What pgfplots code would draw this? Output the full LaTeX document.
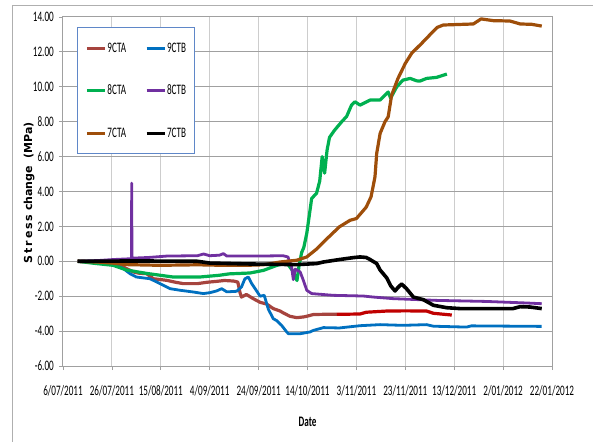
\documentclass[border=0pt]{standalone}
\usepackage{fontspec}
\setmainfont{Carlito}[FakeStretch=0.63]
\newfontfamily\ylabfont{DejaVu Sans}
\usepackage{pgfplots}
\pgfplotsset{compat=1.18}

\definecolor{cta9}{RGB}{166,68,62}
\definecolor{cta9late}{RGB}{192,0,0}
\definecolor{ctb9}{RGB}{0,112,192}
\definecolor{cta8}{RGB}{0,176,80}
\definecolor{ctb8}{RGB}{112,48,160}
\definecolor{cta7}{RGB}{158,78,10}
\definecolor{ctb7}{RGB}{0,0,0}
\definecolor{hgrid}{RGB}{160,160,160}
\definecolor{vgrid}{RGB}{205,205,205}
\definecolor{legblue}{RGB}{95,135,200}
\definecolor{framegray}{RGB}{175,175,175}

\begin{document}
\begin{tikzpicture}
% page area: 593 x 441 with the plot box 489 x 349
\useasboundingbox (-63pt,-75pt) rectangle (530pt,366pt);
% chart area border
\draw[framegray, line width=1pt] (-50.5pt,-80pt) -- (-50.5pt,360pt) -- (540pt,360pt);
\begin{axis}[
  at={(0pt,0pt)}, anchor=south west,
  scale only axis, width=489pt, height=349pt,
  xmin=0, xmax=200, ymin=-6, ymax=14,
  xtick={0,20,...,200},
  xticklabels={6/07/2011,26/07/2011,15/08/2011,4/09/2011,24/09/2011,14/10/2011,3/11/2011,23/11/2011,13/12/2011,2/01/2012,22/01/2012},
  ytick={-6,-4,...,14},
  yticklabel={\pgfmathprintnumber[fixed,fixed zerofill,precision=2]{\tick}},
  /pgf/number format/assume math mode=true,
  tick align=outside, major tick length=4pt,
  xtick pos=bottom, ytick pos=left,
  every tick/.style={hgrid, line width=0.8pt},
  axis line style={hgrid, line width=1pt},
  grid=major,
  x grid style={vgrid, line width=1pt},
  y grid style={hgrid, line width=1pt},
  tick label style={font=\fontsize{14.5}{16}\selectfont, text=black},
  xticklabel style={inner sep=0pt, anchor=base, yshift=-25pt},
  yticklabel style={inner sep=0pt, anchor=east, xshift=-5pt},
  xlabel={\bfseries Date},
  xlabel style={font=\fontsize{14.5}{16}\selectfont, at={(axis description cs:0.5,-0.16)}, anchor=center},
  ylabel={\ylabfont\bfseries S\,t\,r\,e\,s\,s change\ \ (MPa)},
  ylabel style={font=\fontsize{11}{13}\selectfont, at={(axis description cs:-0.0695,0.497)}, anchor=center},
  legend columns=2,
  legend image code/.code={\draw[#1, line width=3pt] (0pt,0pt) -- (18pt,0pt);},
  legend style={at={(axis description cs:0.0286,0.971)}, anchor=north west,
    draw=legblue, line width=1pt, fill=white,
    font=\fontsize{14.5}{16}\selectfont,
    inner xsep=8pt, inner ysep=15pt, row sep=31.5pt,
    nodes={inner sep=0pt},
    /tikz/every odd column/.append style={column sep=1pt},
    /tikz/every even column/.append style={column sep=19pt}},
  every axis plot/.append style={line width=3.2pt, line join=round},
]
% 9CTA (first part of the record)
\addplot[cta9] coordinates {
(6,0) (15,-0.05) (20,-0.1) (24.7,-0.33) (28.8,-0.61) (31,-0.68) (34.2,-0.71)
(37,-1.0) (42.4,-1.09) (46,-1.2) (49.2,-1.28) (55,-1.28) (59,-1.2) (62.8,-1.15)
(66,-1.1) (69.7,-1.13) (71.5,-1.19) (72.4,-1.8) (73,-2.05) (75,-1.9) (77.8,-2.14)
(80.6,-2.35) (83.3,-2.45) (86,-2.71) (88.8,-2.85) (90,-2.95) (92.8,-3.15)
(95.6,-3.23) (98.3,-3.19) (99.7,-3.15) (102.4,-3.05) (106,-3.04) (112,-3.04)
};
\addlegendentry{9CTA}
% 9CTB
\addplot[ctb9, line width=2.8pt] coordinates {
(6,0) (15,-0.05) (20,-0.12) (24.7,-0.42) (27.4,-0.71) (30,-0.9) (35.6,-1.0)
(39.7,-1.28) (43.8,-1.57) (47.9,-1.66) (53.3,-1.76) (57.4,-1.85) (60,-1.8)
(62.8,-1.7) (64.9,-1.57) (67,-1.75) (71,-1.72) (73,-1.47) (74.4,-1.0) (75.8,-0.9)
(77.2,-1.28) (79.2,-1.7) (80.6,-2.0) (82.3,-1.95) (84,-2.75) (86,-3.29)
(87.4,-3.4) (89.4,-3.67) (91.5,-4.05) (92.2,-4.15) (97,-4.15) (101,-4.05)
(102.4,-3.96) (105,-3.86) (106.5,-3.8) (113,-3.82) (121.5,-3.69) (129.7,-3.63)
(139,-3.67) (148.7,-3.63) (151.5,-3.72) (165,-3.77) (167,-3.7) (195.8,-3.73)
};
\addlegendentry{9CTB}
% 8CTA
\addplot[cta8] coordinates {
(6,0) (13,-0.12) (20.5,-0.23) (26,-0.5) (34,-0.69) (45,-0.9) (56,-0.9) (64,-0.8)
(68,-0.72) (76.5,-0.67) (82,-0.52) (87.5,-0.23) (91.6,-0.1) (93.7,-0.5)
(95.7,-1.1) (96.5,-0.3) (97.6,0.5) (98.5,0.8) (99.7,1.6) (101.7,3.6) (103.7,3.9)
(105,4.6) (106,6.0) (107,5.05) (108,6.37) (109,7.1) (111,7.5) (114,8.0)
(116,8.3) (118,8.95) (119.4,9.14) (121.5,8.95) (125.6,9.24) (129.7,9.24)
(131.5,9.5) (133,9.7) (134,9.35) (136.5,10.0) (139,10.38) (142,10.48)
(144.7,10.34) (146,10.33) (148.7,10.48) (152.8,10.54) (157,10.73)
};
\addlegendentry{8CTA}
% 8CTB
\addplot[ctb8, line width=2.8pt] coordinates {
(6,0) (15,0.05) (20.4,0.1) (28,0.15) (28.1,4.48) (28.2,0.18) (35,0.22)
(42.4,0.3) (55,0.32) (57.5,0.42) (60,0.32) (64,0.35) (65.6,0.44) (67,0.3)
(80,0.3) (90,0.32) (92,0.25) (93.5,-0.33) (94.2,-1.05) (95,-0.45) (97,-0.61)
(98.3,-1.09) (99.7,-1.66) (101.7,-1.85) (110.5,-1.95) (122.8,-1.99) (127,-2.05)
(135,-2.14) (152.8,-2.24) (173,-2.3) (189.7,-2.39) (195.8,-2.43)
};
\addlegendentry{8CTB}
% 7CTA
\addplot[cta7] coordinates {
(6,0) (15,-0.05) (20,-0.1) (26,-0.19) (39.7,-0.23) (55,-0.2) (65,-0.23)
(75,-0.23) (82,-0.2) (88.8,-0.04) (95.6,0.06) (99.7,0.25) (103.7,0.7) (108,1.3)
(113,1.97) (117.4,2.35) (120,2.45) (124,3.1) (126,3.7) (127.6,4.84) (128.3,6.18)
(129.7,7.33) (131.7,8.0) (133,8.28) (134.4,9.52) (137,10.48) (140,11.34)
(142.6,11.92) (146.7,12.49) (148.7,12.78) (150,12.97) (153,13.4) (155.5,13.54)
(167.8,13.6) (171,13.89) (176,13.79) (182.8,13.77) (187,13.6) (191.7,13.58)
(195.8,13.48)
};
\addlegendentry{7CTA}
% 7CTB
\addplot[ctb7, line width=3.6pt] coordinates {
(6,0) (30,0.02) (55,0.0) (57,-0.04) (60,-0.1) (75,-0.15) (85,-0.17)
(95.6,-0.19) (103.7,-0.13) (106.5,-0.04) (113,0.1) (118.7,0.21) (121.5,0.25)
(124,0.22) (125.6,0.1) (128.3,-0.13) (129.7,-0.5) (132.4,-0.95) (134,-1.4)
(135.8,-1.7) (137,-1.5) (138.5,-1.3) (140.5,-1.57) (143.3,-2.05) (147.4,-2.2)
(151.5,-2.52) (157,-2.66) (162.4,-2.71) (184,-2.71) (187,-2.6) (191,-2.62)
(195.8,-2.71)
};
\addlegendentry{7CTB}
% 9CTA, later readings
\addplot[cta9late, forget plot] coordinates {
(112,-3.04) (121.5,-3.02) (124,-2.92) (132.4,-2.85) (140,-2.84) (148.7,-2.85)
(151.5,-2.98) (159,-3.08)
};
\end{axis}
\end{tikzpicture}
\end{document}
